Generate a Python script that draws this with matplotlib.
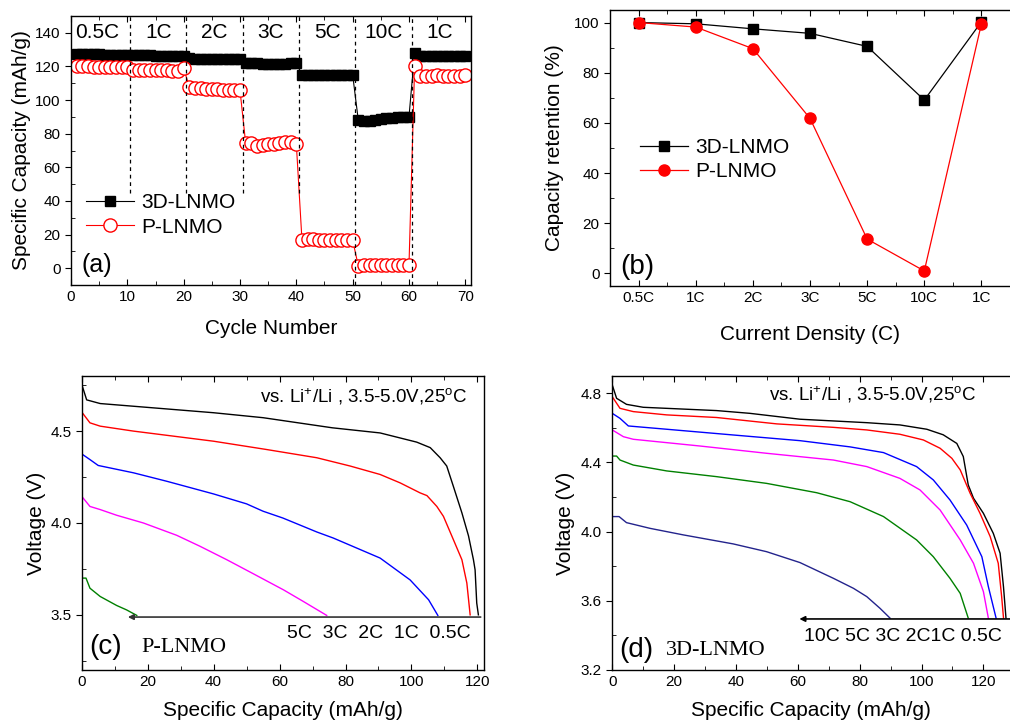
import matplotlib
matplotlib.use('Agg')
import matplotlib.pyplot as plt
from matplotlib.ticker import MultipleLocator

plt.rcParams['font.family'] = ['Liberation Sans', 'DejaVu Sans']
plt.rcParams['mathtext.fontset'] = 'custom'
plt.rcParams['mathtext.rm'] = 'Liberation Sans'
plt.rcParams['mathtext.default'] = 'regular'

# (a) rate capability, capacity per cycle
cycles = list(range(1, 71))
cap_3d = [127.5, 127.3, 127.3, 127.2, 127.2, 127.1, 127.1, 127.0, 127.0, 127.0,
          126.8, 126.7, 126.6, 126.6, 126.5, 126.5, 126.4, 126.4, 126.3, 126.3,
          124.8, 124.6, 124.5, 124.4, 124.4, 124.3, 124.3, 124.3, 124.4, 124.6,
          122.2, 122.0, 121.9, 121.7, 121.6, 121.5, 121.6, 121.7, 121.8, 121.9,
          115.2, 115.2, 115.1, 115.1, 115.1, 115.0, 115.0, 115.0, 115.0, 115.0,
          88.0, 87.8, 87.6, 88.0, 88.6, 89.2, 89.6, 89.8, 90.0, 90.2,
          128.2, 126.5, 126.3, 126.2, 126.1, 126.1, 126.0, 126.0, 126.0, 126.0]
cap_p = [120.2, 120.0, 120.0, 119.9, 119.9, 119.8, 119.8, 119.8, 119.9, 119.8,
         118.0, 117.8, 117.6, 117.6, 117.7, 117.8, 117.6, 117.4, 117.5, 119.0,
         107.8, 107.4, 107.0, 106.8, 106.8, 106.4, 106.0, 105.8, 105.9, 105.8,
         74.5, 74.3, 72.8, 73.2, 73.6, 73.8, 74.6, 75.0, 75.0, 73.8,
         16.8, 17.4, 17.2, 16.9, 16.8, 16.9, 17.0, 17.0, 16.8, 16.6,
         1.4, 1.6, 1.8, 2.0, 2.0, 2.0, 2.0, 2.0, 2.0, 2.0,
         120.0, 114.5, 114.5, 114.6, 114.8, 114.6, 114.6, 114.6, 114.4, 115.2]
rate_names = ['0.5C', '1C', '2C', '3C', '5C', '10C', '1C']

# (b) capacity retention
rates_b = ['0.5C', '1C', '2C', '3C', '5C', '10C', '1C']
ret_3d = [100.0, 99.5, 97.5, 95.7, 90.5, 69.1, 100.3]
ret_p = [100.0, 98.2, 89.6, 61.8, 13.7, 1.0, 99.5]

# (c) P-LNMO discharge curves
c_cap_05 = [0, 1.5, 5.6, 40, 55, 76, 90.5, 101.6, 105.7, 108.7, 110.7, 112.7, 115.3, 117.3, 118.8, 119.3, 119.8, 120.3]
c_v_05 = [4.755, 4.67, 4.65, 4.60, 4.573, 4.518, 4.49, 4.44, 4.41, 4.355, 4.31, 4.20, 4.055, 3.93, 3.80, 3.745, 3.564, 3.50]
c_cap_1 = [0, 2.5, 5.6, 15.7, 40, 56, 71.3, 81.4, 90.5, 96.6, 102.6, 104.7, 107.7, 109.7, 112.7, 115.3, 116.8, 117.8]
c_v_1 = [4.604, 4.545, 4.527, 4.50, 4.445, 4.40, 4.355, 4.31, 4.264, 4.218, 4.164, 4.149, 4.09, 4.036, 3.91, 3.80, 3.673, 3.50]
c_cap_2 = [0, 2.5, 5, 15.7, 25.8, 40, 50, 55, 61, 71.3, 76.3, 90.5, 99.6, 105.2, 108]
c_v_2 = [4.376, 4.345, 4.313, 4.273, 4.227, 4.158, 4.104, 4.064, 4.027, 3.951, 3.918, 3.809, 3.69, 3.582, 3.497]
c_cap_3 = [0, 2.5, 5.6, 10.6, 18.7, 28.8, 35.9, 44, 52, 61.2, 67.2, 74.3]
c_v_3 = [4.145, 4.09, 4.073, 4.042, 4.0, 3.933, 3.873, 3.80, 3.724, 3.636, 3.573, 3.497]
c_cap_5 = [0, 1.3, 2.5, 5.6, 10.6, 13.6, 16.7]
c_v_5 = [3.70, 3.70, 3.645, 3.60, 3.551, 3.527, 3.497]

# (d) 3D-LNMO discharge curves
d_cap_05 = [0, 1.4, 4.6, 10, 33.7, 44.5, 60.7, 82.3, 93, 101.7, 107, 111.4, 113.5, 115.1, 116.8, 120, 123.2, 125.4, 126.5, 127.3]
d_v_05 = [4.848, 4.771, 4.736, 4.719, 4.70, 4.684, 4.65, 4.63, 4.617, 4.592, 4.56, 4.51, 4.434, 4.27, 4.193, 4.106, 3.99, 3.875, 3.68, 3.50]
d_cap_1 = [0, 2.5, 6.8, 17.6, 33.7, 53.2, 71.5, 82.3, 93, 100.6, 106, 109.8, 112.5, 115.7, 118.9, 122.2, 124.8, 125.9, 126.5]
d_v_1 = [4.78, 4.713, 4.694, 4.675, 4.66, 4.623, 4.603, 4.588, 4.563, 4.53, 4.482, 4.424, 4.357, 4.222, 4.106, 3.971, 3.817, 3.624, 3.50]
d_cap_2 = [0, 2.5, 5.2, 17.6, 39, 60.7, 76.9, 87.7, 98.4, 103.8, 109.2, 114.6, 119.5, 121.6, 124.1]
d_v_2 = [4.684, 4.655, 4.611, 4.592, 4.559, 4.526, 4.49, 4.457, 4.376, 4.299, 4.183, 4.038, 3.855, 3.682, 3.50]
d_cap_3 = [0, 3.6, 6.8, 28.4, 49.9, 71.5, 82.3, 93, 99.5, 106, 112.5, 116.8, 120, 121.6]
d_v_3 = [4.588, 4.549, 4.534, 4.495, 4.453, 4.414, 4.376, 4.308, 4.241, 4.125, 3.952, 3.817, 3.653, 3.50]
d_cap_5 = [0, 1.4, 2.5, 6.8, 17.6, 33.7, 49.9, 66.1, 76.9, 87.7, 98.4, 103.8, 109.2, 112.5, 115.1]
d_v_5 = [4.437, 4.437, 4.414, 4.385, 4.351, 4.318, 4.279, 4.225, 4.173, 4.087, 3.952, 3.855, 3.73, 3.643, 3.50]
d_cap_10 = [0, 2.2, 4.6, 12.2, 23, 39.1, 49.9, 60.7, 71.5, 78, 82.3, 86.6, 89.8]
d_v_10 = [4.087, 4.087, 4.052, 4.019, 3.981, 3.929, 3.884, 3.821, 3.73, 3.672, 3.624, 3.556, 3.50]

fig = plt.figure(figsize=(10.1, 7.25), dpi=100)
axa = fig.add_axes([0.0703, 0.6069, 0.396, 0.371])
axb = fig.add_axes([0.604, 0.6055, 0.396, 0.3807])
axc = fig.add_axes([0.0809, 0.0759, 0.3983, 0.4055])
axd = fig.add_axes([0.6062, 0.0759, 0.3938, 0.4055])


def style(ax):
    ax.tick_params(axis='x', which='both', direction='in', top=True, labelsize=11)
    ax.tick_params(axis='y', which='major', direction='out', labelsize=11)
    ax.tick_params(axis='y', which='minor', direction='in')
    ax.tick_params(which='major', length=4)
    ax.tick_params(which='minor', length=3)
    for s in ax.spines.values():
        s.set_linewidth(1.0)


# ---- (a)
axa.plot(cycles, cap_3d, 'k-', marker='s', ms=7, lw=0.8, label='3D-LNMO')
axa.plot(cycles, cap_p, '-', color='red', marker='o', ms=9.5, mfc='white',
         mec='red', mew=1.0, lw=0.8, label='P-LNMO')
for i, b in enumerate([10.5, 20.5, 30.5, 40.5, 50.5, 60.5]):
    ymin = 45 if i < 4 else -10
    axa.plot([b, b], [ymin, 150], 'k--', lw=0.9, dashes=(3, 3))
for i, name in enumerate(rate_names):
    xpos = 10 * i + 5.5 if i > 0 else 4.6
    axa.text(xpos, 140, name, fontsize=15, ha='center', va='center')
axa.set_xlim(0, 71)
axa.set_ylim(-10, 150)
axa.xaxis.set_major_locator(MultipleLocator(10))
axa.xaxis.set_minor_locator(MultipleLocator(5))
axa.yaxis.set_major_locator(MultipleLocator(20))
axa.yaxis.set_minor_locator(MultipleLocator(10))
style(axa)
axa.set_xlabel('Cycle Number', fontsize=15)
axa.set_ylabel('Specific Capacity (mAh/g)', fontsize=15)
axa.xaxis.set_label_coords(0.5, -0.125)
axa.yaxis.set_label_coords(-0.10, 0.5)
axa.text(4.5, 2, '(a)', fontsize=18, ha='center', va='center')
axa.legend(loc='center left', bbox_to_anchor=(0.0375, 0.26), frameon=False,
           fontsize=15, borderpad=0, borderaxespad=0, handlelength=2.3,
           handletextpad=0.35, labelspacing=0.25)

# ---- (b)
xb = list(range(len(rates_b)))
axb.plot(xb, ret_3d, 'k-', marker='s', ms=7, lw=0.9, label='3D-LNMO')
axb.plot(xb, ret_p, '-', color='red', marker='o', ms=8, lw=0.9, label='P-LNMO')
axb.set_xlim(-0.5, 6.5)
axb.set_ylim(-5, 105)
axb.set_xticks(xb)
axb.set_xticklabels(rates_b)
axb.xaxis.set_minor_locator(MultipleLocator(0.5))
axb.yaxis.set_major_locator(MultipleLocator(20))
axb.yaxis.set_minor_locator(MultipleLocator(10))
style(axb)
axb.spines['right'].set_visible(False)
axb.tick_params(which='both', right=False)
axb.set_xlabel('Current Density (C)', fontsize=15)
axb.set_ylabel('Capacity retention (%)', fontsize=15)
axb.xaxis.set_label_coords(0.5, -0.14)
axb.yaxis.set_label_coords(-0.115, 0.5)
axb.text(-0.03, 2.6, '(b)', fontsize=20, ha='center', va='center')
axb.legend(loc='center left', bbox_to_anchor=(0.075, 0.4576), frameon=False,
           fontsize=15, borderpad=0, borderaxespad=0, handlelength=2.3,
           handletextpad=0.35, labelspacing=0.25)

# ---- (c)
axc.plot(c_cap_05, c_v_05, color='black', lw=1)
axc.plot(c_cap_1, c_v_1, color='red', lw=1)
axc.plot(c_cap_2, c_v_2, color='blue', lw=1)
axc.plot(c_cap_3, c_v_3, color='magenta', lw=1)
axc.plot(c_cap_5, c_v_5, color='green', lw=1)
axc.annotate('', xy=(14, 3.488), xytext=(121, 3.488),
             arrowprops=dict(arrowstyle='-|>', color='#333333', lw=1.2,
                             mutation_scale=8, shrinkA=0, shrinkB=0))
axc.text(117.8, 3.40, '5C  3C  2C  1C  0.5C', fontsize=14, ha='right', va='center')
axc.text(117, 4.69, r'vs. Li$^{+}$/Li , 3.5-5.0V,25$^{o}$C', fontsize=13.5,
         ha='right', va='center')
axc.text(7.1, 3.327, '(c)', fontsize=20, ha='center', va='center')
axc.text(18.2, 3.32, 'P-LNMO', fontsize=16, ha='left', va='center',
         family=['Liberation Serif'])
axc.set_xlim(0, 122)
axc.set_ylim(3.2, 4.8)
axc.xaxis.set_major_locator(MultipleLocator(20))
axc.xaxis.set_minor_locator(MultipleLocator(10))
axc.set_yticks([3.5, 4.0, 4.5])
axc.yaxis.set_minor_locator(MultipleLocator(0.25))
style(axc)
axc.set_xlabel('Specific Capacity (mAh/g)', fontsize=15)
axc.set_ylabel('Voltage (V)', fontsize=15)
axc.xaxis.set_label_coords(0.5, -0.105)
axc.yaxis.set_label_coords(-0.09, 0.5)

# ---- (d)
axd.plot(d_cap_05, d_v_05, color='black', lw=1)
axd.plot(d_cap_1, d_v_1, color='red', lw=1)
axd.plot(d_cap_2, d_v_2, color='blue', lw=1)
axd.plot(d_cap_3, d_v_3, color='magenta', lw=1)
axd.plot(d_cap_5, d_v_5, color='green', lw=1)
axd.plot(d_cap_10, d_v_10, color='#23238c', lw=1)
axd.annotate('', xy=(60.5, 3.495), xytext=(128.6, 3.495),
             arrowprops=dict(arrowstyle='-|>', color='black', lw=1.2,
                             mutation_scale=8, shrinkA=0, shrinkB=0))
axd.text(125.9, 3.393, '10C 5C 3C 2C1C 0.5C', fontsize=14, ha='right', va='center')
axd.text(117.8, 4.79, r'vs. Li$^{+}$/Li , 3.5-5.0V,25$^{o}$C', fontsize=13.5,
         ha='right', va='center')
axd.text(7.9, 3.315, '(d)', fontsize=20, ha='center', va='center')
axd.text(17.3, 3.31, '3D-LNMO', fontsize=16, ha='left', va='center',
         family=['Liberation Serif'])
axd.set_xlim(0, 128.6)
axd.set_ylim(3.2, 4.9)
axd.xaxis.set_major_locator(MultipleLocator(20))
axd.xaxis.set_minor_locator(MultipleLocator(10))
axd.yaxis.set_major_locator(MultipleLocator(0.4))
axd.yaxis.set_minor_locator(MultipleLocator(0.2))
axd.yaxis.set_major_formatter(plt.FormatStrFormatter('%.1f'))
style(axd)
axd.spines['right'].set_visible(False)
axd.tick_params(which='both', right=False)
axd.set_xlabel('Specific Capacity (mAh/g)', fontsize=15)
axd.set_ylabel('Voltage (V)', fontsize=15)
axd.xaxis.set_label_coords(0.5, -0.105)
axd.yaxis.set_label_coords(-0.093, 0.5)

fig.savefig('out.png', dpi=100)
